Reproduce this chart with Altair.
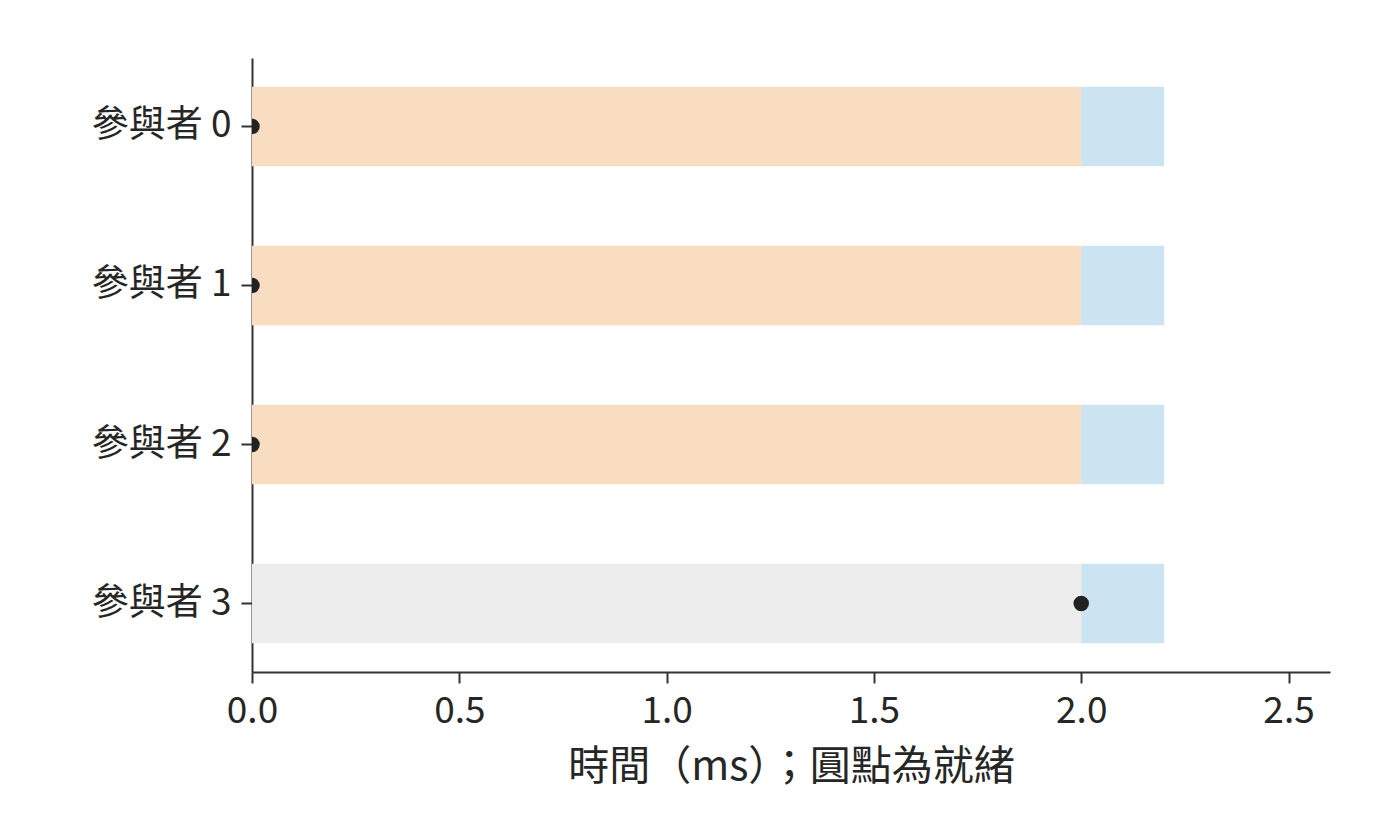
import altair as alt
import pandas as pd

participants = ["參與者 0", "參與者 1", "參與者 2", "參與者 3"]
phase1_start = [0.0, 0.0, 0.0, 0.0]
phase1_end = [2.0, 2.0, 2.0, 2.0]
phase1_kind = ["wait", "wait", "wait", "idle"]
phase2_start = [2.0, 2.0, 2.0, 2.0]
phase2_end = [2.2, 2.2, 2.2, 2.2]
ready_time = [0.0, 0.0, 0.0, 2.0]

kinds = ["wait", "idle", "ready"]
kind_colors = ["#f8ddc0", "#ededed", "#cce3f2"]

rows = []
for i, p in enumerate(participants):
    rows.append({"p": p, "start": phase1_start[i], "end": phase1_end[i], "kind": phase1_kind[i]})
    rows.append({"p": p, "start": phase2_start[i], "end": phase2_end[i], "kind": "ready"})
bars_df = pd.DataFrame(rows)
dots_df = pd.DataFrame({"p": participants, "t": ready_time})

FONT = "Noto Sans CJK TC"

y_enc = alt.Y(
    "p:N",
    sort=participants,
    title=None,
    scale=alt.Scale(paddingInner=0.5, paddingOuter=0.18),
    axis=alt.Axis(
        labelFont=FONT, labelFontSize=37, labelColor="#262626",
        domainColor="#333333", domainWidth=2, tickColor="#333333", tickWidth=2,
        tickSize=11, labelPadding=10, grid=False,
    ),
)

x_scale = alt.Scale(domain=[0, 2.6], nice=False, zero=False)
x_axis = alt.Axis(
    values=[0, 0.5, 1.0, 1.5, 2.0, 2.5], format=".1f",
    labelFont=FONT, labelFontSize=37, labelColor="#262626",
    labelFlush=False, labelOverlap=False,
    titleFont=FONT, titleFontSize=41, titleFontWeight="normal", titleColor="#262626",
    titlePadding=18,
    domainColor="#333333", domainWidth=2, tickColor="#333333", tickWidth=2,
    tickSize=11, labelPadding=10, grid=False,
)

bars = alt.Chart(bars_df).mark_bar(cornerRadius=0).encode(
    x=alt.X("start:Q", scale=x_scale, axis=x_axis, title="時間（ms）；圓點為就緒"),
    x2="end:Q",
    y=y_enc,
    color=alt.Color("kind:N", scale=alt.Scale(domain=kinds, range=kind_colors), legend=None),
)

dots = alt.Chart(dots_df).mark_point(filled=True, size=240, opacity=1, color="#222222", clip=True).encode(
    x=alt.X("t:Q", scale=x_scale),
    y=alt.Y("p:N", sort=participants),
)

chart = alt.layer(bars, dots).properties(
    width=1078, height=614,
    autosize=alt.AutoSizeParams(type="none"),
    padding={"left": 244, "top": 50, "right": 54, "bottom": 160},
).configure_view(stroke=None)

chart.save("out.html", embed_options={"renderer": "svg", "actions": False})
